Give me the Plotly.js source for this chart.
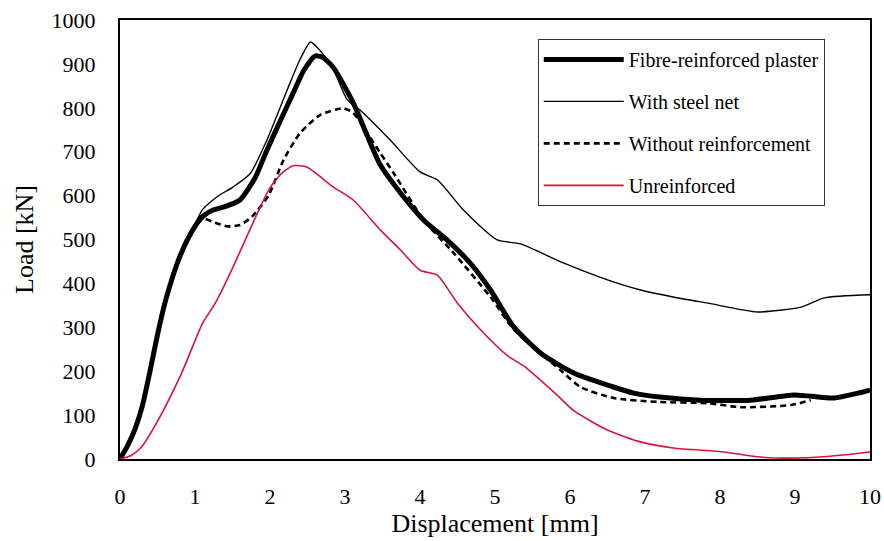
<!DOCTYPE html>
<html>
<head>
<meta charset="utf-8">
<script src="https://cdn.plot.ly/plotly-3.0.1.min.js"></script>
<style>html,body{margin:0;padding:0;background:#fff}#chart{width:884px;height:541px}</style>
</head>
<body>
<div id="chart"></div>
<script>
var seriesNames = ["Fibre-reinforced plaster", "With steel net", "Without reinforcement", "Unreinforced"];

var fibreX = [0, 0.1, 0.2, 0.3, 0.4, 0.5, 0.6, 0.7, 0.8, 0.9, 1.0, 1.1, 1.24, 1.4, 1.6, 1.8, 1.96, 2.15, 2.31, 2.45, 2.6, 2.7, 2.84, 3.11, 3.3, 3.47, 3.74, 4.05, 4.36, 4.67, 4.94, 5.25, 5.61, 6.05, 6.58, 6.85, 7.2, 7.74, 8.41, 8.99, 9.52, 9.84, 10];
var fibreY = [0, 30, 68, 122, 200, 283, 356, 414, 462, 500, 530, 552, 567, 575, 590, 640, 704, 775, 834, 885, 918, 915, 893, 811, 735, 670, 606, 544, 499, 446, 385, 301, 241, 196, 164, 150, 141, 134, 134, 146, 139, 150, 157];

var steelX = [0, 0.1, 0.2, 0.3, 0.4, 0.5, 0.6, 0.7, 0.8, 0.9, 1.0, 1.1, 1.3, 1.51, 1.74, 1.96, 2.23, 2.4, 2.54, 2.67, 2.84, 3.03, 3.2, 3.6, 4.0, 4.23, 4.58, 5.03, 5.34, 5.92, 6.5, 6.94, 7.5, 7.84, 8.5, 9.08, 9.39, 10];
var steelY = [0, 30, 68, 122, 200, 283, 356, 414, 462, 500, 535, 568, 598, 620, 651, 727, 841, 910, 950, 930, 890, 818, 795, 727, 654, 636, 567, 499, 490, 446, 408, 385, 365, 355, 335, 346, 367, 374];

var withoutX = [0, 0.1, 0.2, 0.3, 0.4, 0.5, 0.6, 0.7, 0.8, 0.9, 1.0, 1.1, 1.27, 1.44, 1.6, 1.76, 1.98, 2.18, 2.4, 2.67, 2.98, 3.11, 3.3, 3.47, 3.65, 4.05, 4.45, 4.94, 5.25, 5.87, 6.14, 6.58, 7.17, 7.84, 8.28, 8.95, 9.21];
var withoutY = [0, 30, 68, 122, 200, 283, 356, 414, 462, 500, 528, 548, 538, 530, 533, 552, 600, 681, 742, 784, 799, 788, 742, 697, 651, 544, 469, 369, 295, 203, 164, 139, 130, 127, 118, 123, 134];

var unreinfX = [0, 0.15, 0.29, 0.51, 0.82, 1.1, 1.27, 1.49, 1.71, 1.98, 2.15, 2.31, 2.49, 2.84, 3.11, 3.47, 3.74, 4.0, 4.23, 4.5, 4.81, 5.17, 5.4, 5.8, 6.05, 6.5, 6.94, 7.38, 8.05, 8.5, 8.95, 9.39, 10];
var unreinfY = [0, 8, 28, 89, 195, 309, 355, 431, 514, 612, 650, 668, 665, 620, 590, 522, 476, 430, 419, 355, 294, 235, 210, 150, 110, 66, 39, 25, 16, 5, 2, 5, 16];

var xTicks = [0, 1, 2, 3, 4, 5, 6, 7, 8, 9, 10];
var yTicks = [0, 100, 200, 300, 400, 500, 600, 700, 800, 900, 1000];

var serif = "Liberation Serif";

var traces = [
  {x: fibreX, y: fibreY, name: seriesNames[0], legendgroup: "a", mode: "lines",
   line: {color: "#000", width: 5, shape: "spline", smoothing: 0.6}},
  {x: steelX, y: steelY, name: seriesNames[1], legendgroup: "b", mode: "lines",
   line: {color: "#000", width: 1.4, shape: "spline", smoothing: 0.6}},
  {x: withoutX, y: withoutY, name: seriesNames[2], legendgroup: "c", mode: "lines",
   line: {color: "#000", width: 2.6, dash: "6px,4px", shape: "spline", smoothing: 0.6}},
  {x: unreinfX, y: unreinfY, name: seriesNames[3], legendgroup: "d", mode: "lines",
   line: {color: "#d7143c", width: 1.6, shape: "spline", smoothing: 0.6}}
];

var layout = {
  width: 884, height: 541,
  margin: {l: 120, r: 14, t: 20, b: 82},
  paper_bgcolor: "#fff", plot_bgcolor: "#fff",
  font: {family: serif, color: "#000", size: 20},
  showlegend: true,
  legend: {
    x: 0.557, y: 0.957, xanchor: "left", yanchor: "top",
    bgcolor: "#fff", bordercolor: "#333", borderwidth: 1,
    font: {family: serif, size: 20, color: "#000"},
    traceorder: "grouped", tracegroupgap: 13, itemwidth: 80
  },
  xaxis: {
    range: [0, 10], tickvals: xTicks, ticktext: xTicks.map(String),
    showgrid: false, zeroline: false, showline: true, mirror: true,
    linecolor: "#000", linewidth: 2, ticks: "", ticklabelstandoff: 17,
    tickfont: {family: serif, size: 22, color: "#000"},
    title: {text: "Displacement [mm]", font: {family: serif, size: 26, color: "#000"}, standoff: 5}
  },
  yaxis: {
    range: [0, 1000], tickvals: yTicks, ticktext: yTicks.map(String),
    showgrid: false, zeroline: false, showline: true, mirror: true,
    linecolor: "#000", linewidth: 2, ticks: "", ticklabelstandoff: 18,
    tickfont: {family: serif, size: 22, color: "#000"},
    title: {text: "Load [kN]", font: {family: serif, size: 26, color: "#000"}, standoff: 10}
  }
};

Plotly.newPlot("chart", traces, layout, {displayModeBar: false, staticPlot: true});
</script>
</body>
</html>
